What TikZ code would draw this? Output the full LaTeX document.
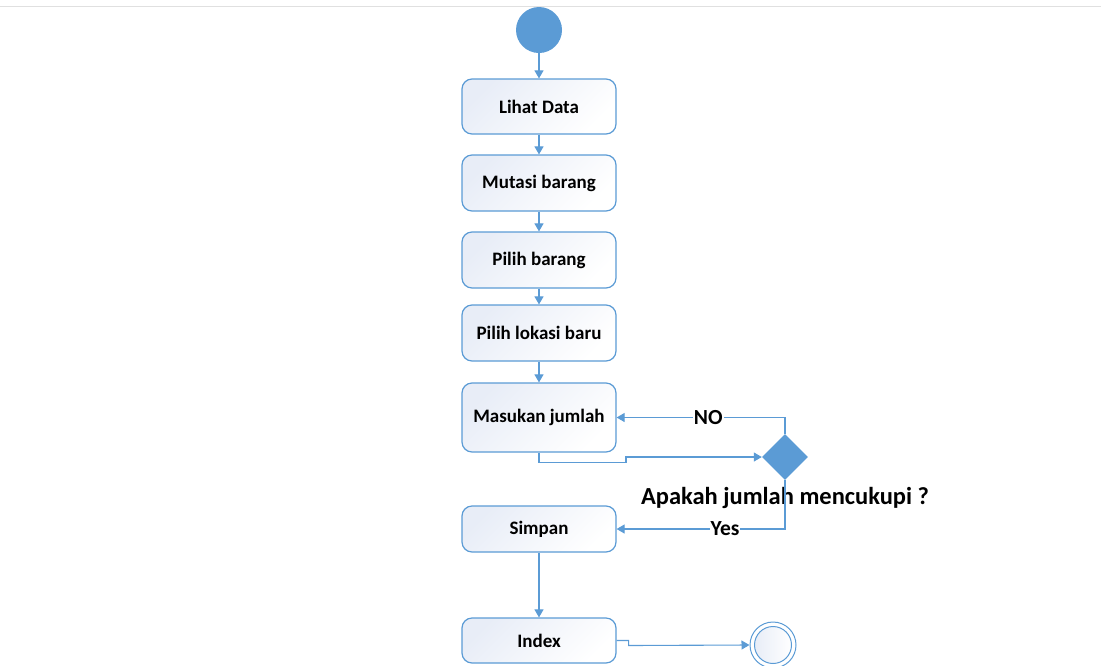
\documentclass[tikz,border=0pt]{standalone}
\usepackage{fontspec}
\setmainfont{Carlito}
\usetikzlibrary{arrows.meta,shapes.geometric}
\definecolor{lineblue}{HTML}{5B9BD5}
\definecolor{boxfill}{HTML}{E8EDF7}
\begin{document}
\begin{tikzpicture}[x=1pt,y=-1pt,
  act/.style={draw=lineblue,line width=1.2pt,rounded corners=10pt,minimum width=154pt,
    left color=boxfill,right color=white,shading angle=45,
    font=\fontsize{19}{22}\selectfont\bfseries,inner sep=0pt},
  conn/.style={draw=lineblue,line width=1.1pt,-{Triangle[width=9pt,length=8pt]}},
  lbl/.style={fill=white,inner sep=1pt,font=\fontsize{21.5}{24}\selectfont\bfseries}]
\useasboundingbox (0,0) rectangle (1101,665);
\draw[black!12,line width=1pt] (0,6) -- (1101,6);
\node[circle,fill=lineblue,minimum size=46pt,inner sep=0pt] (start) at (539,30) {};
\node[act,minimum height=55pt] (lihat) at (539,106.5) {Lihat Data};
\node[act,minimum height=56pt] (mutasi) at (539,183) {Mutasi barang};
\node[act,minimum height=56pt] (pilih) at (539,260) {Pilih barang};
\node[act,minimum height=56pt] (lokasi) at (539,333) {Pilih lokasi baru};
\node[act,minimum height=69pt] (masuk) at (539,417.5) {Masukan jumlah};
\node[act,minimum height=46pt] (simpan) at (539,529) {Simpan};
\node[act,minimum height=45pt] (index) at (539,640.5) {Index};
\node[diamond,fill=lineblue,minimum size=46pt,inner sep=0pt] (dec) at (785,457) {};
\node[font=\fontsize{24.5}{28}\selectfont\bfseries] (q) at (785,498) {Apakah jumlah mencukupi ?};
\node[circle,draw=lineblue,line width=1pt,minimum size=46pt,inner sep=0pt] (end) at (773,645) {};
\node[circle,draw=lineblue,line width=1pt,minimum size=37pt,inner sep=0pt,left color=boxfill,right color=white] (endin) at (773,645) {};
\draw[conn] (start) -- (lihat);
\draw[conn] (lihat) -- (mutasi);
\draw[conn] (mutasi) -- (pilih);
\draw[conn] (pilih) -- (lokasi);
\draw[conn] (lokasi) -- (masuk);
\draw[conn] (masuk.south) -- ++(0,10) -| (626,457) -- (dec.west);
\draw[conn] (dec.north) |- (masuk.east) node[lbl,pos=0.728] {NO};
\draw[conn] (dec.south) |- (simpan.east) node[lbl,pos=0.678] {Yes};
\draw[conn] (simpan) -- (index);
\draw[conn] (index.east) -- ++(12,0) -- ++(0,5) -- (end.west);
\end{tikzpicture}
\end{document}
